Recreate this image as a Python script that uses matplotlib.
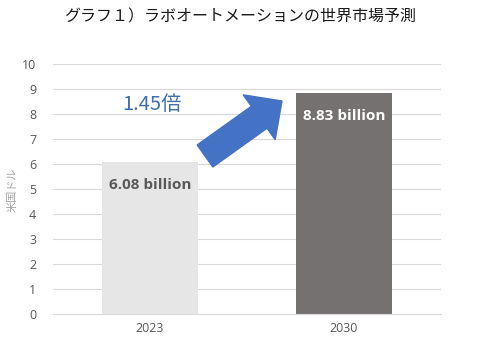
import matplotlib.pyplot as plt
from matplotlib.patches import FancyArrow
from matplotlib.transforms import Affine2D

plt.rcParams['font.family'] = ['Noto Sans CJK JP', 'DejaVu Sans']

# data
years = ['2023', '2030']
market = [6.08, 8.83]
bar_labels = ['6.08 billion', '8.83 billion']
bar_colors = ['#e7e6e6', '#767171']
label_colors = ['#595959', '#ffffff']
growth = '1.45倍'
title = 'グラフ１）ラボオートメーションの世界市場予測'
ylabel = '米国ドル'

W, H = 500, 339
fig = plt.figure(figsize=(W / 100, H / 100), dpi=100)
ax = fig.add_axes([53 / W, (H - 314) / H, 388 / W, 250 / H])

x = range(len(years))
ax.bar(x, market, width=0.495, color=bar_colors, zorder=2)
ax.set_xlim(-0.5, 1.5)
ax.set_ylim(0, 10)
ax.set_yticks(range(0, 11))
ax.set_xticks(list(x))
ax.set_xticklabels(years)

ax.grid(axis='y', color='#d9d9d9', linewidth=0.8, zorder=0)
for s in ['top', 'right', 'left']:
    ax.spines[s].set_visible(False)
ax.spines['bottom'].set_color('#d9d9d9')
ax.spines['bottom'].set_linewidth(0.8)
ax.tick_params(axis='both', length=0, labelsize=9, labelcolor='#595959')
ax.tick_params(axis='y', pad=12)
ax.tick_params(axis='x', pad=6)
for t in ax.get_xticklabels() + ax.get_yticklabels():
    t.set_family(['Open Sans', 'DejaVu Sans'])

fig.text(13 / W, 1 - 190 / H, ylabel, rotation=90, ha='center', va='center',
         color='#a6a6a6', fontsize=8)

# value labels inside bars
offsets = [0.92, 0.91]
for i, (v, lab, c) in enumerate(zip(market, bar_labels, label_colors)):
    ax.text(i, v - offsets[i], lab, ha='center', va='center', color=c,
            fontsize=11, fontweight='bold', family=['Open Sans', 'DejaVu Sans'])

fig.text(240 / W, 1 - 17 / H, title, ha='center', va='center',
         fontsize=11.5, color='#1a1a1a')

# growth annotation
fig.text(152 / W, 1 - 104 / H, growth, ha='center', va='center',
         fontsize=14.5, color='#3f6fad')

# block arrow in pixel coordinates (y from top)
px = Affine2D().scale(1 / 100, -1 / 100).translate(0, H / 100) + fig.dpi_scale_trans
arrow = FancyArrow(205, 156, 77 - 28 * 0.814, -55 + 28 * 0.581, width=27,
                   head_width=55, head_length=28, length_includes_head=False,
                   color='#4472c4', transform=px)
fig.patches.append(arrow)

fig.savefig('out.png', dpi=100)
